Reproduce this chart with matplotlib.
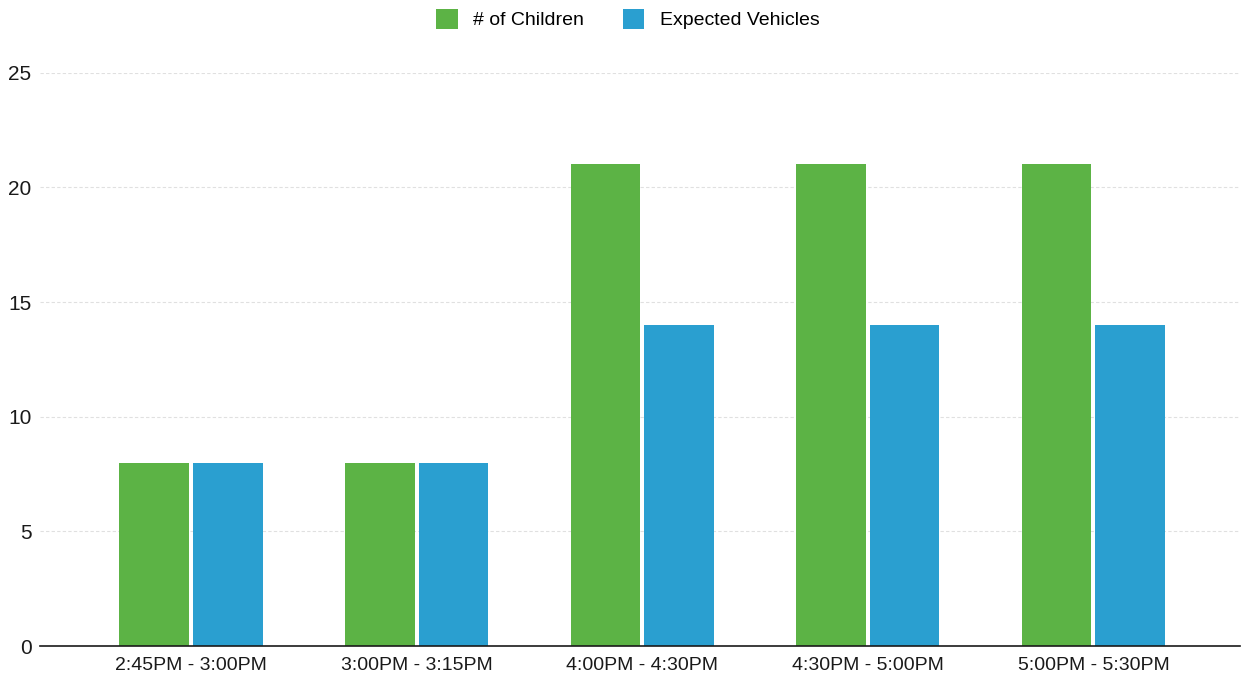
import numpy as np
import matplotlib.pyplot as plt

# ---------------- DATA ---------------- #

time_slots = ["2:45PM - 3:00PM", "3:00PM - 3:15PM", "4:00PM - 4:30PM",
              "4:30PM - 5:00PM", "5:00PM - 5:30PM"]
children = [8, 8, 21, 21, 21]
vehicles = [8, 8, 14, 14, 14]

GREEN = "#5cb345"
BLUE = "#2a9fd0"

# ---------------- CHART ---------------- #

plt.rcParams["font.family"] = ["Liberation Sans", "DejaVu Sans"]

fig = plt.figure(figsize=(12.45, 6.8), dpi=100)
ax = fig.add_axes([0.032, 0.05, 0.964, 0.843])

x = np.arange(len(time_slots))
width = 0.308
offset = 0.163

ax.bar(x - offset, children, width, color=GREEN, label="# of Children", zorder=3)
ax.bar(x + offset, vehicles, width, color=BLUE, label="Expected Vehicles", zorder=3)

ax.set_ylim(0, 25)
ax.set_xlim(-0.67, 4.65)
ax.set_yticks(range(0, 26, 5))
ax.set_xticks(x)
ax.set_xticklabels(time_slots)
ax.tick_params(axis="both", length=0, colors="#1a1a1a")
ax.tick_params(axis="x", pad=8, labelsize=14)
ax.tick_params(axis="y", pad=6, labelsize=15)

ax.grid(axis="y", color="#e0e0e0", linewidth=0.8, linestyle=(0, (3, 2)), zorder=0)
for side in ["top", "right", "left"]:
    ax.spines[side].set_visible(False)
ax.spines["bottom"].set_color("#1a1a1a")
ax.spines["bottom"].set_linewidth(1.2)
ax.spines["bottom"].set_zorder(4)

ax.legend(loc="lower center", bbox_to_anchor=(0.49, 1.045), ncol=2, frameon=False,
          fontsize=14, handlelength=1.1, handleheight=1.2, columnspacing=2.0,
          handletextpad=0.8)

fig.savefig("out.png", dpi=100)
